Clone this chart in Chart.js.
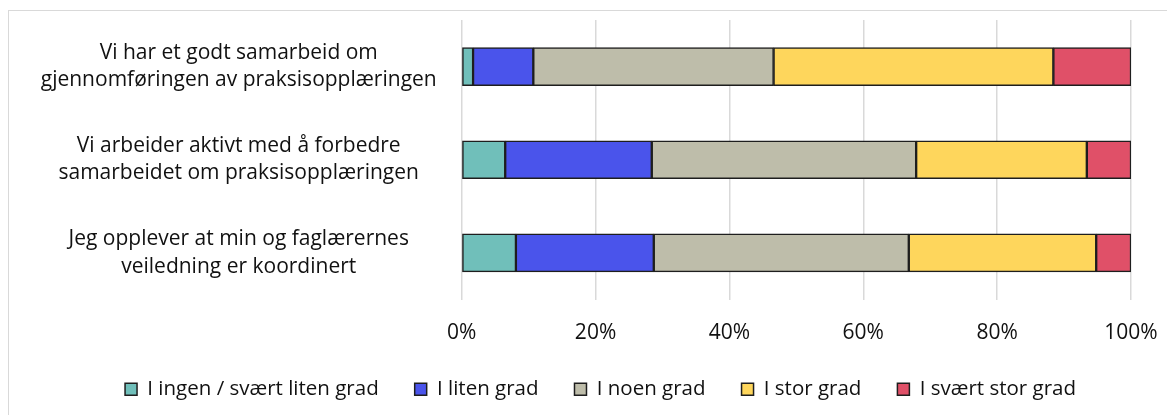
<!DOCTYPE html>
<html lang="no">

<head>
    <meta charset="UTF-8">
    <title>Samarbeid om praksisopplæringen</title>
    <script src="https://cdn.jsdelivr.net/npm/chart.js"></script>
    <style>
        html, body { margin: 0; padding: 0; background: #fff; }
        #wrap { position: relative; width: 1167px; height: 415px; }
        #frame { position: absolute; left: 8px; top: 10px; width: 1200px; height: 450px; border: 1px solid #d9d9d9; }
        #myChart { position: absolute; left: 0; top: 0; }
    </style>
</head>

<body>
    <div id="wrap">
        <div id="frame"></div>
        <canvas id="myChart" width="1167" height="415"></canvas>
    </div>

    <script>
        // statements (y axis)
        const categories = [
            ['Vi har et godt samarbeid om', 'gjennomføringen av praksisopplæringen'],
            ['Vi arbeider aktivt med å forbedre', 'samarbeidet om praksisopplæringen'],
            ['Jeg opplever at min og faglærernes', 'veiledning er koordinert']
        ];

        // percent per answer option
        const ingenSvaertLiten = [1.7, 6.5, 8.1];
        const liten = [9.0, 21.9, 20.6];
        const noen = [35.9, 39.5, 38.1];
        const stor = [41.8, 25.5, 28.0];
        const svaertStor = [11.6, 6.6, 5.2];

        const seriesNames = ['I ingen / svært liten grad', 'I liten grad', 'I noen grad', 'I stor grad', 'I svært stor grad'];
        const xTicks = [0, 20, 40, 60, 80, 100];

        const colors = ['#70bfba', '#4a54eb', '#bebdaa', '#fed65c', '#e05068'];
        const values = [ingenSvaertLiten, liten, noen, stor, svaertStor];

        Chart.defaults.font.family = '"Open Sans", Lato, sans-serif';
        Chart.defaults.font.size = 21;
        Chart.defaults.color = '#111';

        // legend sits a little right of centre in the original
        const legendShift = {
            id: 'legendShift',
            afterLayout(chart) {
                chart.legend.left += 31;
                chart.legend.right += 31;
            }
        };

        const ctx = document.getElementById('myChart');
        const myChart = new Chart(ctx, {
            type: 'bar',
            data: {
                labels: categories,
                datasets: seriesNames.map((name, i) => ({
                    label: name,
                    data: values[i],
                    backgroundColor: colors[i],
                    borderColor: '#1e1e1e',
                    borderWidth: 1.5,
                    borderSkipped: false,
                    barThickness: 38
                }))
            },
            options: {
                indexAxis: 'y',
                responsive: false,
                animation: false,
                layout: {
                    padding: { left: 8, right: 36, top: 20, bottom: 5.5 }
                },
                scales: {
                    x: {
                        stacked: true,
                        min: 0,
                        max: 100,
                        afterBuildTicks: (axis) => {
                            axis.ticks = xTicks.map(v => ({ value: v }));
                        },
                        ticks: {
                            padding: 21,
                            callback: (v) => v + '%'
                        },
                        grid: {
                            color: '#d9d9d9',
                            lineWidth: 1.5,
                            drawTicks: false
                        },
                        border: { display: false },
                        afterFit: (axis) => {
                            axis.height = 43.5;
                            axis.paddingLeft = 0;
                            axis.paddingRight = 0;
                        }
                    },
                    y: {
                        stacked: true,
                        ticks: {
                            padding: 25,
                            crossAlign: 'center',
                            font: { lineHeight: 1.3 }
                        },
                        grid: { display: false, drawTicks: false },
                        border: { display: false },
                        afterFit: (axis) => {
                            axis.width = 453.7;
                            axis.paddingTop = 0;
                            axis.paddingBottom = 0;
                        }
                    }
                },
                plugins: {
                    legend: {
                        position: 'bottom',
                        labels: {
                            boxWidth: 12,
                            boxHeight: 12,
                            padding: 36,
                            color: '#111',
                            font: { size: 20.5 }
                        }
                    },
                    tooltip: { enabled: false }
                }
            },
            plugins: [legendShift]
        });
    </script>
</body>

</html>
